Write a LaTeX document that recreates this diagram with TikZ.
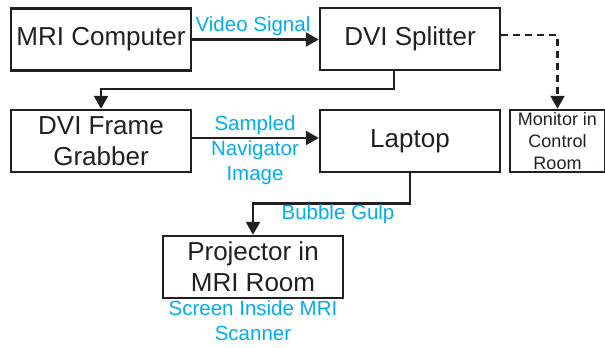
\documentclass[tikz,border=0pt]{standalone}
\usepackage{fontspec}
\setmainfont{Liberation Sans}
\usetikzlibrary{arrows.meta}
\definecolor{inkblack}{RGB}{35,31,32}
\definecolor{sigcyan}{RGB}{0,174,239}
\begin{document}
\begin{tikzpicture}[x=1pt,y=-1pt,
    blockbox/.style={draw=inkblack, line width=2.5pt, minimum width=180pt, minimum height=62pt,
      inner sep=0pt, align=center, text=inkblack, font=\fontsize{26}{31}\selectfont},
    smallbox/.style={blockbox, minimum width=95pt, font=\fontsize{18}{22}\selectfont},
    sig/.style={text=sigcyan, align=center, inner sep=0pt, font=\fontsize{20.5}{25}\selectfont},
    flow/.style={draw=inkblack, line width=2.5pt, -{Triangle[length=13pt,width=14pt]}}]
  \useasboundingbox (0,0) rectangle (605,348);
  % blocks
  \node[blockbox] (mri) at (101,39.5) {MRI Computer};
  \node[blockbox] (split) at (410,39) {DVI Splitter};
  \node[blockbox] (grab) at (101,141) {DVI Frame\\Grabber};
  \node[blockbox] (lap) at (410,141) {Laptop};
  \node[smallbox] (mon) at (557.5,141) {Monitor in\\Control\\Room};
  \node[blockbox] (proj) at (253,267) {Projector in\\MRI Room};
  % bends
  \coordinate (bendA) at (394,89);
  \coordinate (bendB) at (558,35);
  \coordinate (levelC) at (0,138);
  % connectors
  \draw[flow] (mri.east) -- (split.west |- mri.east);
  \draw[flow] (split.south -| bendA) -- (bendA) -| (grab.north);
  \draw[flow, dash pattern=on 7pt off 5pt] (split.east |- bendB) -| (mon.north);
  \draw[flow] (grab.east |- levelC) -- (lap.west |- levelC);
  \draw[flow] (lap.south) -- ++(0,30) -| (proj.north);
  % labels
  \node[sig] (lblvideo) at (253,26) {Video Signal};
  \node[sig] (lblnav) at (255,150) {Sampled\\Navigator\\Image};
  \node[sig] (lblgulp) at (338,214) {Bubble Gulp};
  \node[sig] (lblscreen) at (253,321) {Screen Inside MRI\\Scanner};
\end{tikzpicture}
\end{document}
